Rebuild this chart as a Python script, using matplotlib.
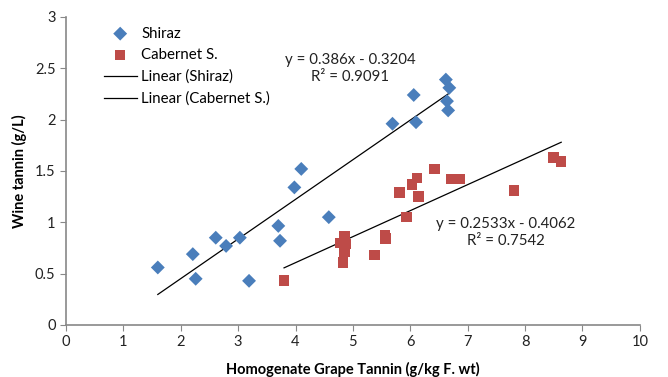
"""
Wine tannin vs homogenate grape tannin, Shiraz and Cabernet S., with linear trendlines.
"""

import numpy as np
import matplotlib
matplotlib.use("Agg")
import matplotlib.pyplot as plt

# Shiraz samples
shiraz_x = [1.60, 2.21, 2.26, 2.61, 2.79, 3.03, 3.19, 3.70, 3.73, 3.98,
            4.10, 4.58, 5.69, 6.06, 6.10, 6.62, 6.68, 6.64, 6.66]
shiraz_y = [0.56, 0.69, 0.45, 0.85, 0.77, 0.85, 0.43, 0.965, 0.82, 1.34,
            1.52, 1.05, 1.96, 2.24, 1.975, 2.39, 2.31, 2.18, 2.09]

# Cabernet Sauvignon samples
cab_x = [3.80, 4.85, 4.78, 4.88, 4.85, 4.83, 5.38, 5.56, 5.57, 5.81,
         5.93, 6.03, 6.12, 6.14, 6.42, 6.71, 6.87, 7.81, 8.50, 8.63]
cab_y = [0.435, 0.867, 0.80, 0.79, 0.71, 0.61, 0.68, 0.87, 0.84, 1.29,
         1.05, 1.37, 1.43, 1.25, 1.52, 1.42, 1.42, 1.31, 1.63, 1.595]

# trendline coefficients as printed on the chart
shiraz_fit = (0.386, -0.3204, 0.9091)
cab_fit = (0.2533, -0.4062, 0.7542)


def _main():
    plt.rcParams["font.family"] = ["Lato", "DejaVu Sans"]

    fig = plt.figure(figsize=(6.68, 3.77), dpi=100)
    ax = fig.add_axes([0.0988, 0.138, 0.859, 0.817])

    blue = "#4a7ebb"
    red = "#be4b48"

    ax.scatter(shiraz_x, shiraz_y, marker="D", s=50, color=blue,
               edgecolors="none", label="Shiraz", zorder=3)
    ax.scatter(cab_x, cab_y, marker="s", s=58, color=red,
               edgecolors="none", label="Cabernet S.", zorder=3)

    # trendlines over each series' x range
    for xs, (m, b, r2), name in [(shiraz_x, shiraz_fit, "Linear (Shiraz)"),
                                 (cab_x, cab_fit, "Linear (Cabernet S.)")]:
        xx = np.array([min(xs), max(xs)])
        ax.plot(xx, m * xx + b, color="black", lw=0.9, label=name, zorder=2)

    ax.text(4.95, 2.50, f"y = {shiraz_fit[0]}x - {-shiraz_fit[1]}\nR² = {shiraz_fit[2]}",
            ha="center", va="center", fontsize=10.8, linespacing=1.3, color="#222222")
    ax.text(7.66, 0.90, f"y = {cab_fit[0]}x - {-cab_fit[1]}\nR² = {cab_fit[2]}",
            ha="center", va="center", fontsize=10.8, linespacing=1.3, color="#222222")

    ax.set_xlim(0, 10)
    ax.set_ylim(0, 3)
    ax.set_xticks(np.arange(0, 11, 1))
    ax.set_yticks(np.arange(0, 3.01, 0.5))
    ax.set_yticklabels(["0", "0.5", "1", "1.5", "2", "2.5", "3"])

    for side in ["top", "right"]:
        ax.spines[side].set_visible(False)
    for side in ["left", "bottom"]:
        ax.spines[side].set_color("#888888")
        ax.spines[side].set_linewidth(1.2)
    ax.tick_params(direction="out", length=4, color="#888888",
                   labelsize=10.5, labelcolor="#222222")

    ax.set_xlabel("Homogenate Grape Tannin (g/kg F. wt)", fontsize=10.5,
                  fontweight="bold", labelpad=9)
    ax.set_ylabel("Wine tannin (g/L)", fontsize=10.5, fontweight="bold",
                  labelpad=6)

    ax.legend(loc="upper left", bbox_to_anchor=(0.05, 0.998), frameon=False,
              fontsize=10.8, handlelength=2.2, handletextpad=0.3,
              labelspacing=0.5, borderaxespad=0.2)

    fig.savefig("out.png", dpi=100)


if __name__ == "__main__":
    _main()
